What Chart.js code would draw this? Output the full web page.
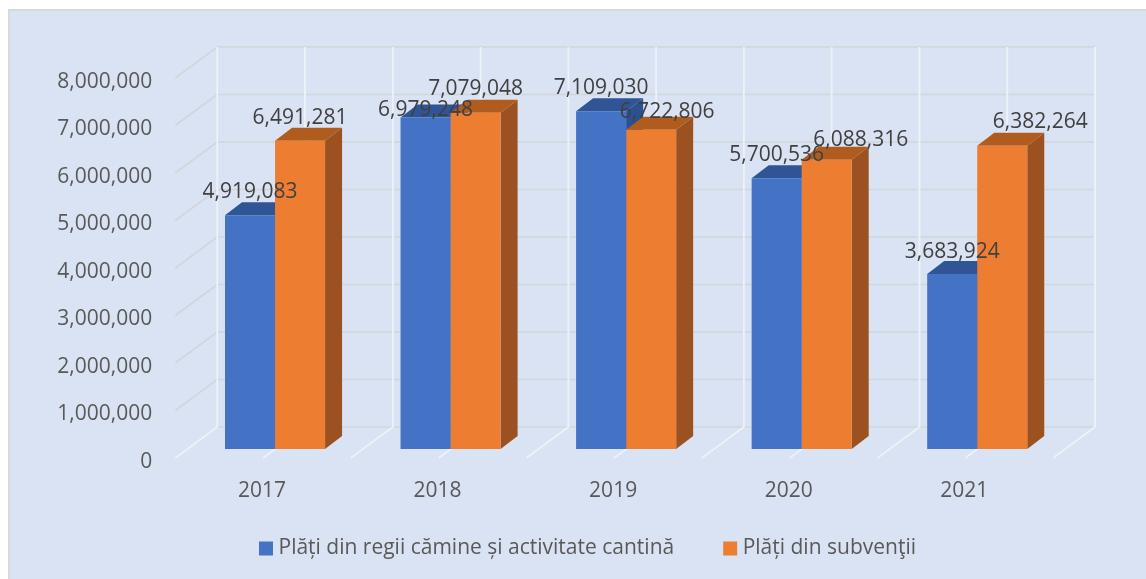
<!DOCTYPE html>
<html>
<head>
<meta charset="utf-8">
<style>html,body{margin:0;padding:0;background:#fff}canvas{display:block}</style>
<script src="https://cdn.jsdelivr.net/npm/chart.js@4"></script>
</head>
<body>
<canvas id="c" width="1146" height="579"></canvas>
<script>
const categories = ['2017', '2018', '2019', '2020', '2021'];
const seriesNames = ['Plăți din regii cămine și activitate cantină', 'Plăți din subvenţii'];
const regiiValues = [4919083, 6979248, 7109030, 5700536, 3683924];
const subventiiValues = [6491281, 7079048, 6722806, 6088316, 6382264];
const fontFamily = '"Open Sans", sans-serif';

// label placement relative to bar-top centre: [dx, dy]
const regiiLabelNudge = [[0, -23], [0, -7], [0, -23], [0, -23], [0, -22]];
const subvLabelNudge = [[0, -23], [0, -24], [16, -18], [34, -20], [38, -24]];

const depthX = 17, depthY = 13;
const sideColors = ['#2b5190', '#9c5220'];
const topColors = ['#2f5597', '#b05c1f'];

const panelPlugin = {
  id: 'panel',
  beforeDraw(chart) {
    const ctx = chart.ctx;
    ctx.save();
    ctx.fillStyle = '#ffffff';
    ctx.fillRect(0, 0, 1146, 579);
    ctx.fillStyle = '#d9d9d9';
    ctx.fillRect(8, 9, 1138, 570);
    ctx.fillStyle = '#dae3f3';
    ctx.fillRect(10, 11, 1136, 568);
    ctx.restore();
  }
};

const wallPlugin = {
  id: 'wall',
  afterLayout(chart) {
    const l = chart.legend;
    l.left = 0; l.right = 1180; l.top = 484; l.bottom = 579;
  },
  beforeDatasetsDraw(chart) {
    const ctx = chart.ctx, x = chart.scales.x, y = chart.scales.y;
    const backX = 30, backY = -22, frontX = -12, frontY = 9;
    ctx.save();
    ctx.strokeStyle = '#d2d6dc';
    ctx.lineWidth = 1.6;
    y.ticks.forEach((t, i) => {
      const py = y.getPixelForTick(i);
      if (i === 0) return;
      ctx.beginPath();
      ctx.moveTo(x.left + frontX, py + frontY);
      ctx.lineTo(x.left + backX, py + backY);
      ctx.lineTo(x.right + backX, py + backY);
      ctx.stroke();
    });
    const y0 = y.getPixelForValue(0);
    ctx.beginPath();
    ctx.moveTo(x.left + backX, y0 + backY);
    ctx.lineTo(x.right + backX, y0 + backY);
    ctx.stroke();
    ctx.strokeStyle = '#eef2f8';
    ctx.lineWidth = 1.8;
    const top = y.getPixelForValue(y.max);
    const steps = categories.length * 2;
    for (let i = 0; i <= steps; i++) {
      const px = x.left + (x.right - x.left) * i / steps;
      ctx.beginPath();
      ctx.moveTo(px + backX, top + backY);
      ctx.lineTo(px + backX, y0 + backY);
      ctx.lineTo(px + frontX, y0 + frontY);
      ctx.stroke();
    }
    chart.data.datasets.forEach((ds, di) => {
      chart.getDatasetMeta(di).data.forEach(bar => {
        const p = bar.getProps(['x', 'y', 'base', 'width'], true);
        const l = p.x - p.width / 2, r = p.x + p.width / 2;
        ctx.fillStyle = sideColors[di];
        ctx.beginPath();
        ctx.moveTo(r, p.y);
        ctx.lineTo(r + depthX, p.y - depthY);
        ctx.lineTo(r + depthX, p.base - depthY);
        ctx.lineTo(r, p.base);
        ctx.closePath();
        ctx.fill();
        ctx.fillStyle = topColors[di];
        ctx.beginPath();
        ctx.moveTo(l, p.y);
        ctx.lineTo(l + depthX, p.y - depthY);
        ctx.lineTo(r + depthX, p.y - depthY);
        ctx.lineTo(r, p.y);
        ctx.closePath();
        ctx.fill();
      });
    });
    ctx.restore();
  },
  afterDatasetsDraw(chart) {
    const ctx = chart.ctx;
    ctx.save();
    ctx.font = '21px ' + fontFamily;
    ctx.fillStyle = '#404040';
    ctx.textAlign = 'center';
    ctx.textBaseline = 'middle';
    const nudges = [regiiLabelNudge, subvLabelNudge];
    chart.data.datasets.forEach((ds, di) => {
      chart.getDatasetMeta(di).data.forEach((bar, i) => {
        const p = bar.getProps(['x', 'y'], true);
        ctx.fillText(ds.data[i].toLocaleString('en-US'), p.x + nudges[di][i][0], p.y + nudges[di][i][1]);
      });
    });
    ctx.restore();
  }
};

new Chart(document.getElementById('c'), {
  type: 'bar',
  data: {
    labels: categories,
    datasets: [
      { label: seriesNames[0], data: regiiValues, backgroundColor: '#4472c4', borderWidth: 0 },
      { label: seriesNames[1], data: subventiiValues, backgroundColor: '#ed7d31', borderWidth: 0 }
    ]
  },
  options: {
    responsive: false,
    animation: false,
    events: [],
    layout: { padding: { left: 30, right: 81, top: 69, bottom: 0 } },
    datasets: { bar: { categoryPercentage: 0.57, barPercentage: 1 } },
    scales: {
      x: {
        grid: { display: false },
        border: { display: false },
        ticks: { color: '#595959', font: { family: fontFamily, size: 21 }, labelOffset: -13, padding: 21, maxRotation: 0 },
        afterFit(s) { s.height = 70; }
      },
      y: {
        min: 0, max: 8000000,
        grid: { display: false },
        border: { display: false },
        ticks: {
          stepSize: 1000000,
          color: '#595959',
          font: { family: fontFamily, size: 21 },
          padding: 27,
          labelOffset: 13,
          callback: v => Number(v).toLocaleString('en-US')
        },
        afterFit(s) { s.width = 157.25; }
      }
    },
    plugins: {
      title: { display: false },
      tooltip: { enabled: false },
      legend: {
        position: 'bottom',
        maxHeight: 60,
        labels: {
          color: '#595959',
          font: { family: fontFamily, size: 21 },
          boxWidth: 4,
          boxHeight: 4,
          padding: 54,
          generateLabels(chart) {
            return Chart.defaults.plugins.legend.labels.generateLabels(chart).map(item => ({
              ...item, lineWidth: 10, strokeStyle: item.fillStyle
            }));
          }
        }
      }
    }
  },
  plugins: [panelPlugin, wallPlugin]
});
</script>
</body>
</html>
